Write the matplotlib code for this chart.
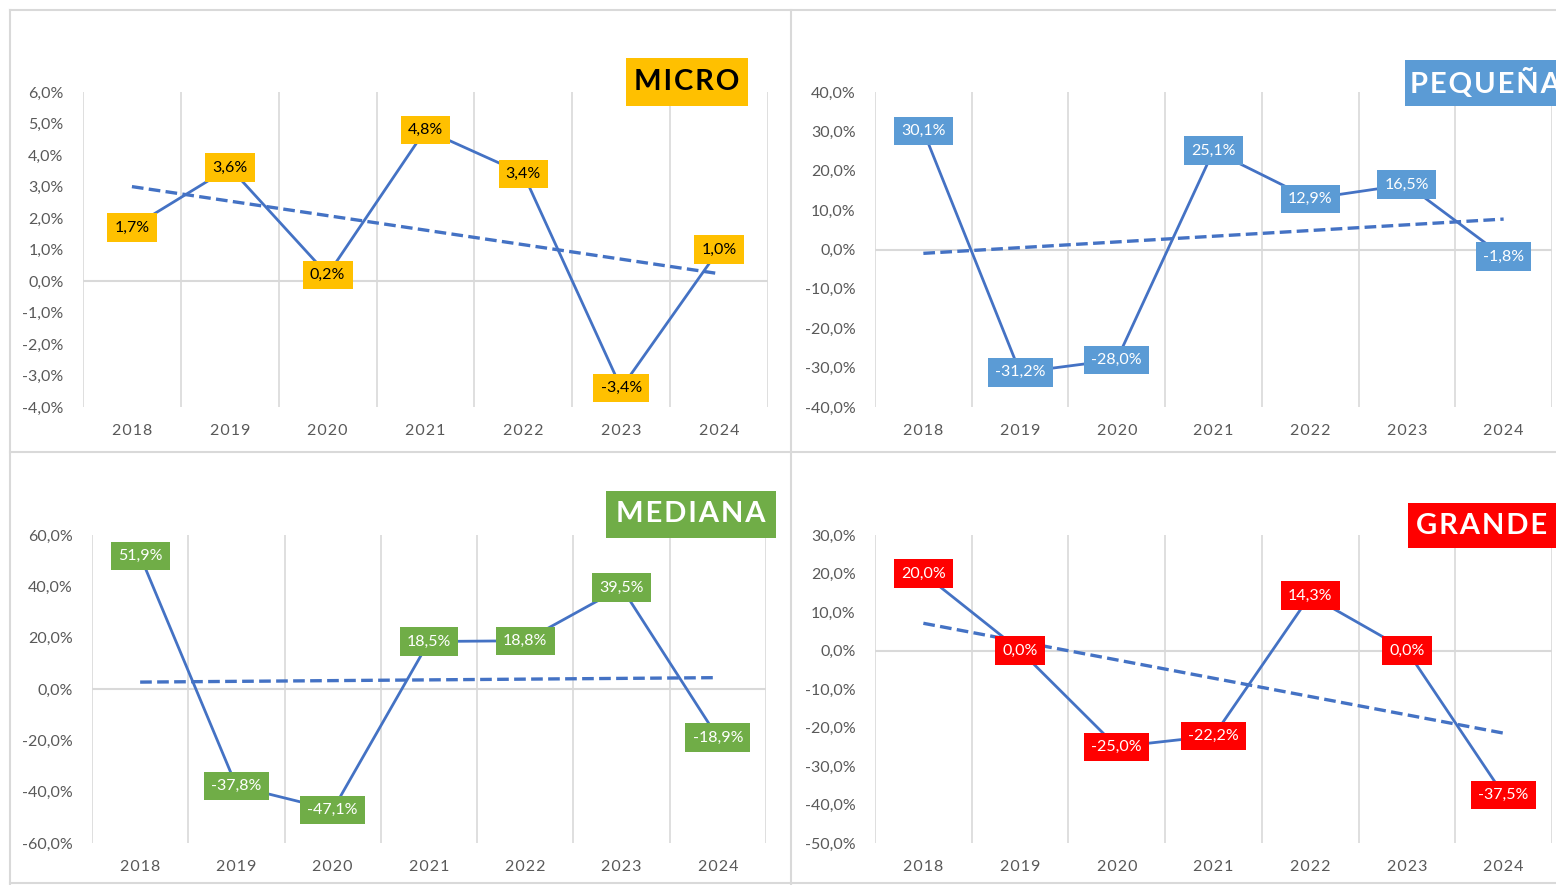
import numpy as np
import matplotlib
matplotlib.use('Agg')
import matplotlib.pyplot as plt
from matplotlib.patches import Rectangle
from matplotlib.lines import Line2D

plt.rcParams['font.family'] = ['Lato', 'DejaVu Sans']

years = ['2018', '2019', '2020', '2021', '2022', '2023', '2024']
micro = [1.7, 3.6, 0.2, 4.8, 3.4, -3.4, 1.0]
pequena = [30.1, -31.2, -28.0, 25.1, 12.9, 16.5, -1.8]
mediana = [51.9, -37.8, -47.1, 18.5, 18.8, 39.5, -18.9]
grande = [20.0, 0.0, -25.0, -22.2, 14.3, 0.0, -37.5]

W, H = 1556, 885
LINE = '#4472C4'
GRID = '#D9D9D9'

fig = plt.figure(figsize=(W / 100, H / 100), dpi=100)
fig.patch.set_facecolor('white')


def fx(x):
    return x / W


def fy(y):
    return 1 - y / H


def pct(v):
    return f'{v:.1f}%'.replace('.', ',')


# panel borders
for x0, y0, x1, y1 in [(10, 10, W, 10), (10, 10, 10, H), (791, 10, 791, H),
                       (10, 452, W, 452), (10, 883, W, 883)]:
    fig.add_artist(Line2D([fx(x0), fx(x1)], [fy(y0), fy(y1)], color=GRID, lw=1.5))


def panel(values, box, ylim, step, fill, txtcol):
    left, top, right, bottom = box
    ax = fig.add_axes([fx(left), fy(bottom), fx(right) - fx(left), fy(top) - fy(bottom)])
    x = np.arange(len(years))
    ax.set_xlim(-0.5, len(years) - 0.5)
    ax.set_ylim(*ylim)
    for s in ax.spines.values():
        s.set_visible(False)
    for g in np.arange(-0.5, len(years), 1):
        ax.axvline(g, color=GRID, lw=1.2, zorder=0)
    ax.axhline(0, color=GRID, lw=1.5, zorder=0)

    ax.plot(x, values, color=LINE, lw=2, zorder=2)
    # linear trend line, as Excel draws it
    k, b = np.polyfit(x, values, 1)
    ax.plot(x, k * x + b, color=LINE, lw=2.4, ls=(0, (3.5, 1.6)), zorder=2)

    for xi, v in zip(x, values):
        ax.text(xi, v, pct(v), ha='center', va='center', color=txtcol, fontsize=11.5,
                zorder=4, clip_on=False,
                bbox=dict(boxstyle='square,pad=0.45', fc=fill, ec='none'))

    ticks = np.arange(ylim[0], ylim[1] + step / 2, step)
    ax.set_yticks(ticks)
    ax.set_yticklabels([pct(t) for t in ticks], color='#595959', fontsize=11.5)
    ax.set_xticks(x)
    ax.set_xticklabels(['\u200a'.join(y) for y in years], color='#595959', fontsize=11.5)
    ax.tick_params(length=0)
    ax.tick_params(axis='y', pad=14)
    ax.tick_params(axis='x', pad=12)
    ax.set_facecolor('none')
    return ax


panel(micro, (83, 92, 768, 407), (-4, 6), 1, '#FFC000', 'black')
panel(pequena, (875, 92, 1552, 407), (-40, 40), 10, '#5B9BD5', 'white')
panel(mediana, (92, 535, 766, 843), (-60, 60), 20, '#70AD47', 'white')
panel(grande, (875, 535, 1552, 843), (-50, 30), 10, '#FF0000', 'white')


def title(label, x0, y0, x1, y1, fill, col, ha='center', tx=None):
    fig.add_artist(Rectangle((fx(x0), fy(y1)), fx(x1) - fx(x0), fy(y0) - fy(y1),
                             fc=fill, ec='none', transform=fig.transFigure, zorder=5))
    spaced = '\u200a'.join(label)
    xt = fx((x0 + x1) / 2) if ha == 'center' else fx(tx)
    fig.text(xt, fy((y0 + y1) / 2), spaced, ha=ha, va='center',
             fontsize=21, fontweight='bold', color=col, zorder=6)


title('MICRO', 626, 58, 748, 106, '#FFC000', 'black')
title('PEQUEÑA', 1405, 60, 1556, 106, '#5B9BD5', 'white', ha='left', tx=1410)
title('MEDIANA', 606, 491, 776, 538, '#70AD47', 'white')
title('GRANDE', 1408, 503, 1556, 548, '#FF0000', 'white')

fig.savefig('out.png', dpi=100)
